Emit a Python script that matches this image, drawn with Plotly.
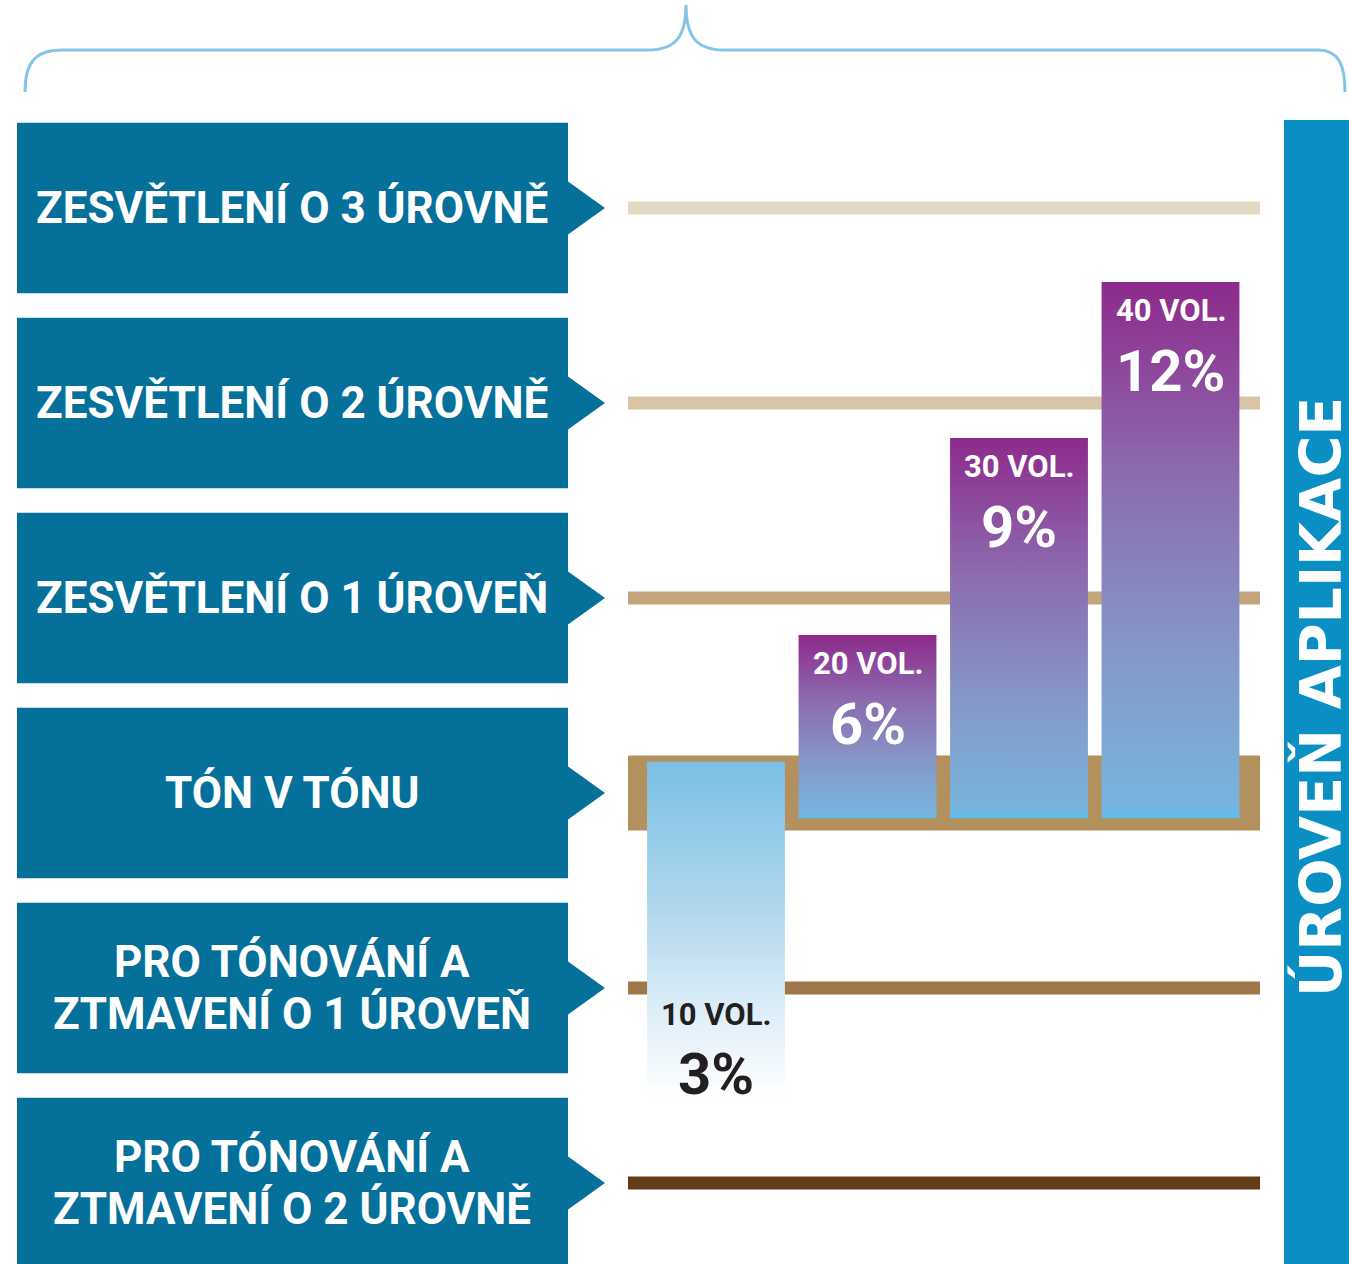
import plotly.graph_objects as go

# ---------------- data ----------------
level_values = [3, 2, 1, 0, -1, -2]
level_labels = [
    "ZESVĚTLENÍ O 3 ÚROVNĚ",
    "ZESVĚTLENÍ O 2 ÚROVNĚ",
    "ZESVĚTLENÍ O 1 ÚROVEŇ",
    "TÓN V TÓNU",
    "PRO TÓNOVÁNÍ A<br>ZTMAVENÍ O 1 ÚROVEŇ",
    "PRO TÓNOVÁNÍ A<br>ZTMAVENÍ O 2 ÚROVNĚ",
]
level_line_colors = ["#e3d7c6", "#d8c5a7", "#c4a57b", "#b3915f", "#9f7749", "#623d18"]

volumes = ["10 VOL.", "20 VOL.", "30 VOL.", "40 VOL."]
percents = ["3%", "6%", "9%", "12%"]
bar_top = [0.16, 0.81, 1.82, 2.62]      # in levels
bar_base = [-1.57, -0.13, -0.13, -0.13]  # in levels

axis_title = "ÚROVEŇ APLIKACE"

# ---------------- figure ----------------
W, H = 1349, 1264
fig = go.Figure()

# level lines (level 0 drawn as the wide band)
line_x = [-0.581, 3.591]
for lv, col in zip(level_values, level_line_colors):
    fig.add_trace(go.Scatter(
        x=line_x, y=[lv, lv], mode="lines",
        line=dict(color=col, width=75 if lv == 0 else 13),
        hoverinfo="skip", showlegend=False))

half = 0.455
purple_scale = [[0, "#5fbdf0"], [0.025, "#78b4de"], [0.3, "#8599c8"],
                [0.65, "#8c6aae"], [1, "#8d2a8b"]]
blue_scale = [[0, "#ffffff"], [0.2, "#e6f2fa"], [0.55, "#b3d8ee"], [1, "#7ac0e4"]]
for i, (t, b) in enumerate(zip(bar_top, bar_base)):
    fig.add_trace(go.Scatter(
        x=[i - half, i + half, i + half, i - half, i - half],
        y=[b, b, t, t, b],
        mode="lines", line=dict(width=0), fill="toself",
        fillgradient=dict(type="vertical",
                          colorscale=blue_scale if i == 0 else purple_scale,
                          start=b, stop=t),
        hoverinfo="skip", showlegend=False))

bar_font = "Roboto, sans-serif"
for i, (vol, pct, t, b) in enumerate(zip(volumes, percents, bar_top, bar_base)):
    if i == 0:
        anchor, s1, s2, col = b, 85, 25, "#231f20"
    else:
        anchor, s1, s2, col = t, -28, -89, "white"
    fig.add_annotation(x=i, y=anchor, yshift=s1, text=vol, showarrow=False,
                       font=dict(family=bar_font, size=31, color=col, weight="bold"))
    fig.add_annotation(x=i, y=anchor, yshift=s2, text=pct, showarrow=False,
                       font=dict(family=bar_font, size=58, color=col, weight="bold"))

# left category boxes with arrows
box_col = "#05709a"
for lv, lab in zip(level_values, level_labels):
    fig.add_shape(type="rect", xref="x2", yref="y", x0=17, x1=568,
                  y0=lv - 0.437, y1=lv + 0.437, fillcolor=box_col, line_width=0, layer="below")
    fig.add_shape(type="path", xref="x2", yref="y",
                  path=f"M 567,{lv + 0.14} L 605,{lv} L 567,{lv - 0.14} Z",
                  fillcolor=box_col, line_width=0, layer="below")
    parts = lab.split("<br>")
    shifts = [0] if len(parts) == 1 else [26, -26]
    for part, sh in zip(parts, shifts):
        fig.add_annotation(xref="x2", yref="y", x=292, y=lv, yshift=sh, text=part,
                           showarrow=False,
                           font=dict(family="Roboto, sans-serif", size=44, color="white",
                                     weight="bold"))

# right vertical bar
fig.add_shape(type="rect", xref="x2", yref="y2", x0=1284, x1=1349, y0=120, y1=1264,
              fillcolor="#0a8fc5", line_width=0, layer="below")
fig.add_annotation(xref="x2", yref="y2", x=1320, y=697, text=axis_title, showarrow=False,
                   textangle=-90,
                   font=dict(family="DejaVu Sans, sans-serif", size=57,
                             color="white", weight="bold"))

# top curly brace
fig.add_shape(type="path", xref="x2", yref="y2",
              path=("M 25,92 C 25,64 34,50 62,50 L 648,50 C 676,50 686,36 686,5 "
                    "C 686,36 696,50 724,50 L 1318,50 C 1338,50 1345,64 1345,92"),
              line=dict(color="#86c4e6", width=3), layer="below")

fig.update_layout(
    width=W, height=H, margin=dict(l=0, r=0, t=0, b=0),
    paper_bgcolor="white", plot_bgcolor="white", showlegend=False,
    xaxis=dict(range=[-716 / 151.5, (W - 716) / 151.5], visible=False, fixedrange=True),
    yaxis=dict(range=[(793 - H) / 195, 793 / 195], visible=False, fixedrange=True),
    xaxis2=dict(range=[0, W], overlaying="x", visible=False, fixedrange=True),
    yaxis2=dict(range=[H, 0], overlaying="y", visible=False, fixedrange=True),
)
# dummy trace to activate the pixel axes
fig.add_trace(go.Scatter(x=[0], y=[0], xaxis="x2", yaxis="y2", mode="markers",
                         marker=dict(opacity=0), hoverinfo="skip", showlegend=False))

fig.write_html("out.html", config={"displayModeBar": False},
               post_script="document.body.style.margin='0';")
